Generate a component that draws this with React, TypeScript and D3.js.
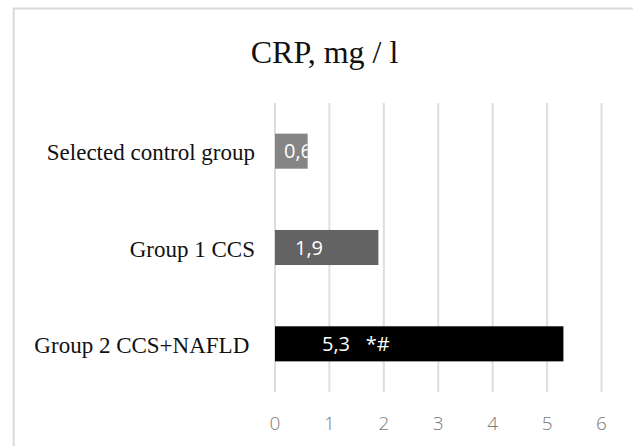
import React from "react";
import * as d3 from "d3";

// CRP levels (mg/l) by study group
const categories = ["Selected control group", "Group 1 CCS", "Group 2 CCS+NAFLD\u00a0"];
const values = [0.6, 1.9, 5.3];
const valueLabels = ["0,6", "1,9", "5,3   *#"];
const barColors = ["#858585", "#636363", "#000000"];
const xTicks = [0, 1, 2, 3, 4, 5, 6];
const title = "CRP, mg / l";

// label offsets inside each bar, in pixels from the bar start
const labelDx = [9, 20, 47];

const W = 633;
const H = 446;
const plot = { left: 275, right: 601.5, top: 103, bottom: 392 };

export default function App() {
  const x = d3.scaleLinear().domain([0, 6]).range([plot.left, plot.right]);
  const y = d3
    .scaleBand<string>()
    .domain(categories)
    .range([plot.top, plot.bottom])
    .paddingInner(0.636)
    .paddingOuter(0.318);

  return (
    <svg
      width={W}
      height={H}
      style={{ position: "absolute", left: 0, top: 0, background: "#fff" }}
    >
      <defs>
        {categories.map((c, i) => (
          <clipPath id={`bar-clip-${i}`} key={c}>
            <rect
              x={x(0)}
              y={y(c)}
              width={x(values[i]) - x(0)}
              height={y.bandwidth()}
            />
          </clipPath>
        ))}
      </defs>

      {/* chart frame */}
      <rect
        x={13.7}
        y={8.5}
        width={700}
        height={500}
        fill="#fff"
        stroke="#d9d9d9"
        strokeWidth={2}
      />

      <text
        x={324.5}
        y={62.5}
        textAnchor="middle"
        fontFamily="'Liberation Serif', 'Times New Roman', serif"
        fontSize={32}
        fill="#111"
      >
        {title}
      </text>

      {/* vertical gridlines */}
      {xTicks.map((t) => (
        <line
          key={t}
          x1={x(t)}
          x2={x(t)}
          y1={plot.top}
          y2={plot.bottom}
          stroke="#dedede"
          strokeWidth={2}
        />
      ))}

      {/* bars */}
      {categories.map((c, i) => (
        <rect
          key={c}
          x={x(0)}
          y={y(c)}
          width={x(values[i]) - x(0)}
          height={y.bandwidth()}
          fill={barColors[i]}
        />
      ))}

      {/* value labels inside bars */}
      {categories.map((c, i) => (
        <text
          key={c}
          x={x(0) + labelDx[i]}
          y={(y(c) as number) + y.bandwidth() / 2}
          dy="0.36em"
          clipPath={`url(#bar-clip-${i})`}
          fontFamily="'Open Sans', sans-serif"
          fontSize={20}
          fill="#fff"
          style={{ whiteSpace: "pre" }}
        >
          {valueLabels[i]}
        </text>
      ))}

      {/* category labels */}
      {categories.map((c) => (
        <text
          key={c}
          x={x(0) - 20}
          y={(y(c) as number) + y.bandwidth() / 2 + 9}
          textAnchor="end"
          fontFamily="'Liberation Serif', 'Times New Roman', serif"
          fontSize={23}
          fill="#111"
          style={{ whiteSpace: "pre" }}
        >
          {c}
        </text>
      ))}

      {/* x-axis tick labels */}
      {xTicks.map((t) => (
        <text
          key={t}
          x={x(t)}
          y={423}
          dy="0.36em"
          textAnchor="middle"
          fontFamily="'Open Sans', sans-serif"
          fontWeight={300}
          fontSize={19}
          fill="#7a7a7a"
        >
          {t}
        </text>
      ))}
    </svg>
  );
}
